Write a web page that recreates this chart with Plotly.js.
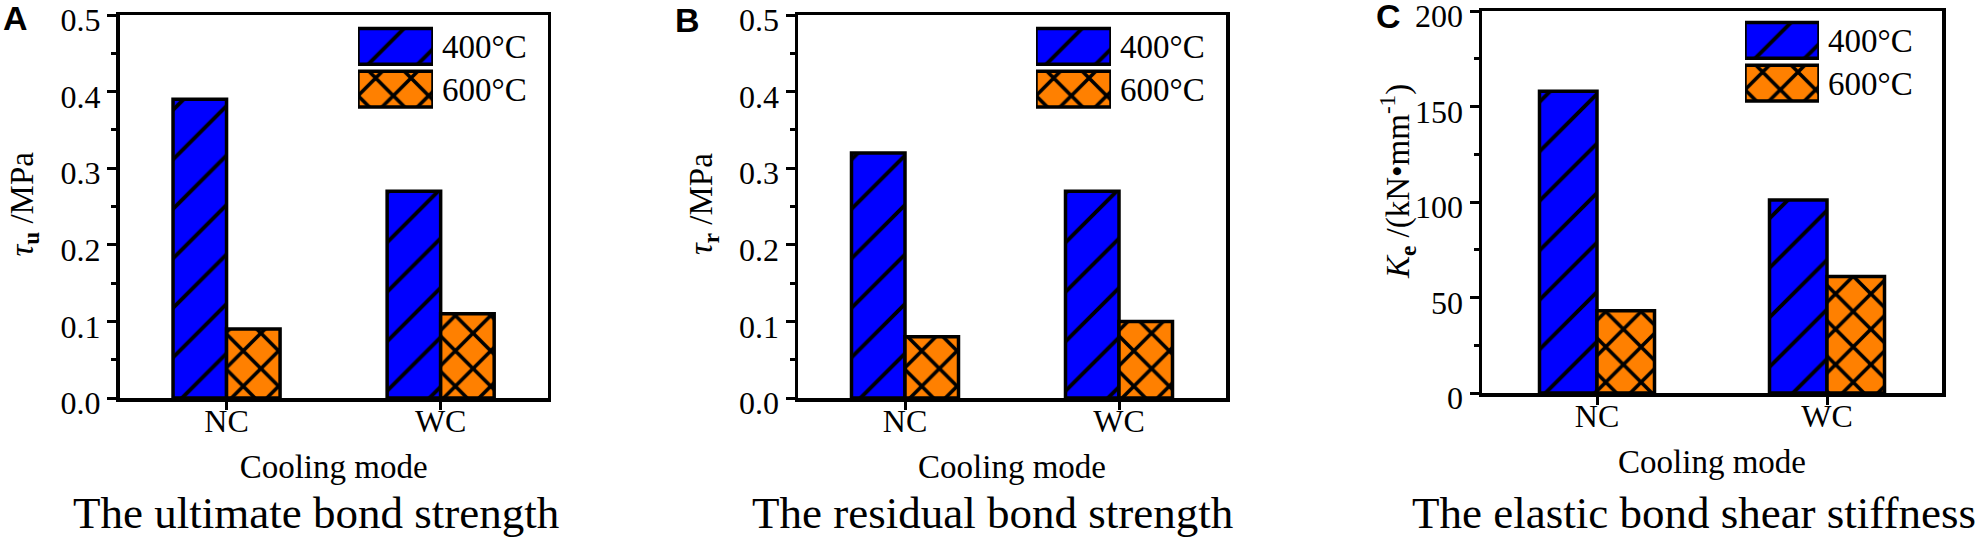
<!DOCTYPE html>
<html>
<head>
<meta charset="utf-8">
<script src="https://cdn.plot.ly/plotly-3.0.1.min.js"></script>
<style>
  html, body { margin: 0; padding: 0; background: #fff; }
  #chart { width: 1981px; height: 541px; }
</style>
</head>
<body>
<div id="chart"></div>
<script>
// values
var categories = ["NC", "WC"];
var seriesNames = ["400°C", "600°C"];
var ultimate400 = [0.39, 0.27];
var ultimate600 = [0.09, 0.11];
var residual400 = [0.32, 0.27];
var residual600 = [0.08, 0.10];
var stiffness400 = [158, 101];
var stiffness600 = [43, 61];
var strengthTicks = [0, 0.1, 0.2, 0.3, 0.4, 0.5];
var stiffnessTicks = [0, 50, 100, 150, 200];

var W = 1981, H = 541;
var FONT = "Liberation Serif";
var colors = ["#0000ff", "#ff8000"];
// plotly tiles are size*sqrt(2) wide; overlay mode needs fgopacity 1 for solid black
var patterns = [
    {shape: "/", size: 35, solidity: 0.11, fgcolor: "black", fgopacity: 1, fillmode: "overlay"},
    {shape: "x", size: 25, solidity: 0.27, fgcolor: "black", fgopacity: 1, fillmode: "overlay"}
];

// pixel -> paper
function px(x) { return x / W; }
function py(y) { return 1 - y / H; }

function mainBars(values, i, n) {
    return {
        type: "bar",
        x: categories,
        y: values,
        name: seriesNames[i],
        xaxis: "x" + n,
        yaxis: "y" + n,
        marker: {color: colors[i], line: {color: "black", width: 3.5}, pattern: patterns[i]},
        showlegend: false,
        hoverinfo: "none"
    };
}

// big hatched key swatches, drawn as bars on a small inset axis
function keyBar(i, n) {
    return {
        type: "bar",
        orientation: "h",
        y: [seriesNames[i]],
        x: [1],
        base: 0,
        width: 0.835,
        offset: -0.4175,
        xaxis: "x" + n,
        yaxis: "y" + n,
        marker: {color: colors[i], line: {color: "black", width: 3.5}, pattern: patterns[i]},
        cliponaxis: false,
        showlegend: false,
        hoverinfo: "none"
    };
}

function xAxis(dom, anchor) {
    return {
        domain: dom, anchor: anchor, type: "category", range: [-0.5, 1.5],
        showline: true, linecolor: "black", linewidth: 3.5, mirror: true,
        ticks: "outside", ticklen: 8, tickwidth: 3, tickcolor: "black",
        ticklabelstandoff: -16,
        showgrid: false, zeroline: false,
        tickfont: {family: FONT, size: 32, color: "black"},
        title: {text: "Cooling mode", font: {family: FONT, size: 33, color: "black"}, standoff: 18}
    };
}

function yAxis(dom, anchor, tickvals, fmt) {
    var step = tickvals[1] - tickvals[0];
    return {
        domain: dom, anchor: anchor, range: [tickvals[0], tickvals[tickvals.length - 1]],
        tickvals: tickvals, tickformat: fmt, ticklabeloverflow: "allow", ticklabelshift: 5,
        showline: true, linecolor: "black", linewidth: 3.5, mirror: true,
        ticks: "outside", ticklen: 9, tickwidth: 3, tickcolor: "black",
        minor: {tickvals: tickvals.slice(1).map(function(v) { return v - step / 2; }),
                ticks: "outside", ticklen: 5, tickwidth: 3, tickcolor: "black", showgrid: false},
        showgrid: false, zeroline: false,
        tickfont: {family: FONT, size: 32, color: "black"}
    };
}

function keyX(dom, anchor) {
    return {domain: dom, anchor: anchor, range: [0, 1], visible: false, fixedrange: true};
}

function keyY(dom, anchor) {
    return {
        domain: dom, anchor: anchor, type: "category", range: [1.5, -0.5], side: "right",
        showline: false, showgrid: false, zeroline: false, ticks: "", ticklabelstandoff: 8,
        ticklabeloverflow: "allow",
        tickfont: {family: FONT, size: 33, color: "black"}
    };
}

var yA = [py(398), py(15)];
var yC = [py(393), py(11)];
var keyYA = [py(110.5), py(25)];
var keyYC = [py(104.5), py(19)];

var data = [
    mainBars(ultimate400, 0, ""), mainBars(ultimate600, 1, ""),
    mainBars(residual400, 0, 2), mainBars(residual600, 1, 2),
    mainBars(stiffness400, 0, 3), mainBars(stiffness600, 1, 3),
    keyBar(0, 4), keyBar(1, 4),
    keyBar(0, 5), keyBar(1, 5),
    keyBar(0, 6), keyBar(1, 6)
];

function label(text, x, y, size, family, bold) {
    return {
        xref: "paper", yref: "paper", x: px(x), y: py(y),
        xanchor: "center", yanchor: "middle", showarrow: false,
        text: bold ? "<b>" + text + "</b>" : text,
        font: {family: family, size: size, color: "black"}
    };
}

function yTitle(text, x, y) {
    var a = label(text, x, y, 33, FONT, false);
    a.textangle = -90;
    return a;
}

var layout = {
    width: W, height: H,
    margin: {l: 0, r: 0, t: 0, b: 0},
    paper_bgcolor: "white", plot_bgcolor: "rgba(0,0,0,0)",
    barmode: "group", bargap: 0.5, bargroupgap: 0,
    hovermode: false,
    xaxis: xAxis([px(119.5), px(547.7)], "y"),
    yaxis: yAxis(yA, "x", strengthTicks, ".1f"),
    xaxis2: xAxis([px(798), px(1226)], "y2"),
    yaxis2: yAxis(yA, "x2", strengthTicks, ".1f"),
    xaxis3: xAxis([px(1482), px(1942)], "y3"),
    yaxis3: yAxis(yC, "x3", stiffnessTicks, "d"),
    xaxis4: keyX([px(358), px(433)], "y4"),
    yaxis4: keyY(keyYA, "x4"),
    xaxis5: keyX([px(1036), px(1111)], "y5"),
    yaxis5: keyY(keyYA, "x5"),
    xaxis6: keyX([px(1745), px(1819)], "y6"),
    yaxis6: keyY(keyYC, "x6"),
    annotations: [
        label("A", 15, 18.5, 34, "Liberation Sans", true),
        label("B", 687, 20, 34, "Liberation Sans", true),
        label("C", 1388, 16, 34, "Liberation Sans", true),
        yTitle("<i>τ</i><sub><b>u</b></sub> /MPa", 23.5, 204),
        yTitle("<i>τ</i><sub><b>r</b></sub> /MPa", 703, 204),
        yTitle("<i>K</i><sub><b>e</b></sub> /(kN•mm<sup>-1</sup>)", 1397, 182),
        label("The ultimate bond strength", 316, 513, 45, FONT, false),
        label("The residual bond strength", 992, 513, 45, FONT, false),
        label("The elastic bond shear stiffness", 1694, 513, 45, FONT, false)
    ]
};

Plotly.newPlot("chart", data, layout, {staticPlot: true, displayModeBar: false});
</script>
</body>
</html>
